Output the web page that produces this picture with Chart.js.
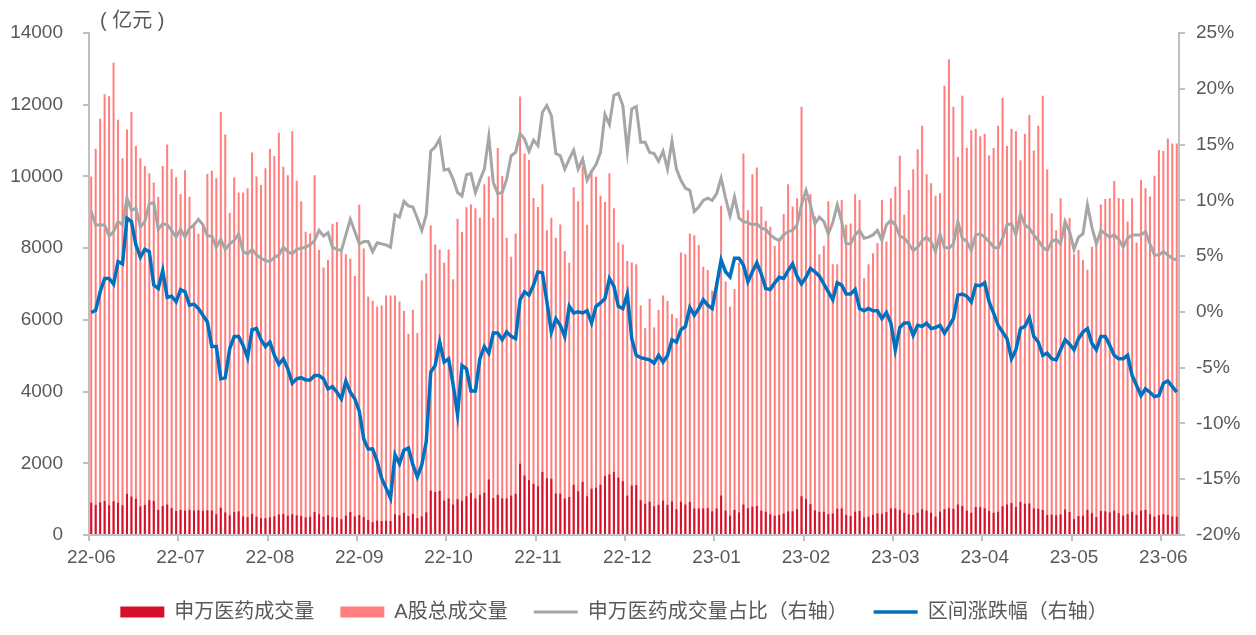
<!DOCTYPE html>
<html lang="zh-CN">
<head>
<meta charset="utf-8">
<title>申万医药成交量与A股总成交量</title>
<script src="https://cdn.jsdelivr.net/npm/chart.js@4.4.1/dist/chart.umd.min.js"></script>
<style>
  html, body { margin: 0; padding: 0; background: #fff; }
  #chart { display: block; }
</style>
</head>
<body>
<canvas id="chart" width="1256" height="635"></canvas>
<script>
// x axis labels, one every 20 trading days
const monthTicks = ['22-06', '22-07', '22-08', '22-09', '22-10', '22-11', '22-12',
  '23-01', '23-02', '23-03', '23-04', '23-05', '23-06'];

// 申万医药成交量（亿元）
const medVolume = [
  900, 840, 910, 950, 830, 940, 900, 830, 1150, 1070,
  1010, 800, 840, 970, 950, 700, 810, 850, 750, 670,
  700, 680, 700, 680, 690, 670, 690, 680, 580, 760,
  630, 550, 640, 660, 520, 500, 590, 510, 470, 470,
  490, 520, 570, 590, 540, 580, 550, 530, 490, 510,
  640, 580, 510, 550, 500, 490, 440, 540, 640, 520,
  560, 500, 420, 360, 400, 390, 400, 390, 580, 550,
  620, 530, 590, 470, 520, 630, 1240, 1200, 1230, 960,
  1020, 850, 1000, 950, 1080, 1170, 1020, 1120, 1180, 1550,
  1030, 1120, 1020, 1020, 1100, 1150, 1990, 1660, 1530, 1430,
  1360, 1760, 1580, 1570, 1160, 1150, 1020, 1060, 1400, 1220,
  1480, 1080, 1290, 1320, 1400, 1640, 1690, 1760, 1600, 1500,
  1100, 1380, 1390, 970, 870, 930, 800, 840, 960, 840,
  940, 720, 930, 850, 920, 740, 740, 740, 750, 660,
  740, 1100, 680, 540, 700, 630, 850, 750, 790, 810,
  680, 650, 580, 540, 560, 600, 660, 660, 720, 1080,
  1000, 860, 690, 650, 650, 580, 600, 730, 740, 560,
  530, 650, 670, 490, 510, 560, 600, 590, 640, 740,
  740, 700, 620, 580, 560, 620, 720, 680, 620, 510,
  650, 720, 750, 730, 850, 810, 680, 620, 780, 780,
  750, 670, 620, 650, 800, 850, 890, 780, 920, 870,
  880, 740, 730, 700, 560, 570, 550, 570, 710, 640,
  440, 530, 540, 700, 610, 500, 670, 660, 630, 680,
  610, 540, 580, 650, 560, 680, 700, 580, 510, 550,
  580, 560, 520, 510
];

// A股总成交量（亿元）
const aShareVolume = [
  10000, 10770, 11610, 12290, 12235, 13170, 11580, 10510, 11310, 11800,
  10850, 10510, 10290, 10090, 9830, 9430, 10290, 10890, 10210, 9980,
  9500, 10170, 9430, 8700, 8400, 8600, 10070, 10160, 9950, 11800,
  11170, 8990, 9970, 9550, 9550, 9670, 10670, 10000, 9760, 10230,
  10770, 10570, 11220, 10270, 10030, 11260, 9880, 9310, 8460, 8410,
  10030, 7950, 7460, 7670, 8680, 8730, 7930, 7830, 7710, 7230,
  9210, 7990, 6650, 6530, 6370, 6400, 6680, 6680, 6680, 6510,
  6250, 5610, 6280, 5630, 7100, 7290, 8630, 8100, 7960, 7590,
  7960, 7130, 8820, 8450, 9140, 9220, 9110, 8850, 9780, 10000,
  8850, 10790, 10010, 8290, 7760, 8410, 12230, 10640, 10460, 9400,
  9150, 9780, 8500, 8850, 8290, 8660, 7920, 7590, 9700, 9310,
  10270, 8650, 10130, 9990, 9460, 9290, 10090, 9110, 8160, 8100,
  7640, 7600, 7550, 6400, 5770, 6590, 5790, 6280, 6680, 6530,
  6160, 6050, 7880, 7830, 8410, 8360, 8090, 7480, 7390, 6810,
  6990, 9180, 7070, 6370, 6860, 7600, 10640, 9060, 10060, 10250,
  9160, 8760, 8600, 8060, 8270, 8950, 9780, 9160, 9390, 11940,
  9400, 9500, 8880, 7830, 8070, 9310, 7550, 7550, 9340, 8650,
  8690, 9500, 9340, 7160, 7550, 7860, 8140, 9340, 8180, 9390,
  9720, 10580, 8930, 9620, 10200, 10760, 11410, 10060, 9810, 9460,
  9530, 12530, 13270, 11940, 10550, 12250, 10800, 11290, 11330, 11120,
  11190, 10590, 10790, 11410, 12190, 10850, 11330, 11260, 10450, 11190,
  11710, 10720, 11410, 12250, 10200, 8970, 8500, 9390, 8760, 8840,
  7830, 7950, 7670, 7400, 8040, 8270, 9220, 9370, 9390, 9870,
  9400, 9370, 8740, 9390, 8160, 9900, 9670, 9440, 10020, 10740,
  10710, 11060, 10920, 10920
];

// 申万医药成交量占比（%，右轴）
const medShare = [
  9.0, 7.8, 7.8, 7.8, 6.8, 7.2, 8.1, 7.8, 10.2, 9.1,
  9.3, 7.6, 8.1, 9.7, 9.8, 7.4, 7.9, 7.8, 7.3, 6.7,
  7.4, 6.7, 7.5, 7.8, 8.3, 7.8, 6.8, 6.8, 5.8, 6.5,
  5.6, 6.1, 6.4, 7.0, 5.4, 5.2, 5.6, 5.1, 4.8, 4.6,
  4.5, 4.9, 5.1, 5.8, 5.4, 5.2, 5.6, 5.7, 5.8, 6.0,
  6.4, 7.3, 6.8, 7.1, 5.8, 5.6, 5.5, 6.9, 8.3, 7.2,
  6.1, 6.3, 6.3, 5.4, 6.2, 6.1, 6.0, 5.8, 8.7, 8.5,
  9.9, 9.5, 9.4, 8.4, 7.3, 8.7, 14.4, 14.8, 15.5, 12.7,
  12.8, 11.9, 10.7, 10.4, 12.3, 12.4, 10.7, 11.8, 12.8, 15.7,
  11.6, 10.6, 10.7, 11.9, 14.0, 14.3, 16.0, 15.5, 14.4, 15.4,
  14.9, 17.9, 18.5, 17.6, 14.2, 14.0, 12.8, 13.7, 14.5, 12.8,
  13.7, 11.8, 12.6, 13.2, 14.3, 17.7, 16.8, 19.4, 19.6, 18.5,
  14.4, 18.2, 18.4, 15.2, 15.2, 14.3, 14.2, 13.5, 14.4, 12.8,
  15.3, 12.8, 11.8, 11.1, 10.9, 9.0, 9.4, 10.0, 10.2, 10.0,
  10.6, 12.0, 10.2, 8.6, 10.3, 8.4, 8.1, 8.0, 7.8, 7.9,
  7.5, 7.4, 6.9, 6.6, 6.4, 6.9, 7.2, 7.3, 7.8, 9.6,
  10.9, 9.6, 7.9, 8.5, 8.1, 7.0, 8.0, 9.6, 8.1, 6.1,
  6.1, 6.9, 7.3, 6.6, 6.7, 6.9, 7.3, 6.4, 7.8, 8.2,
  7.8, 6.8, 6.6, 6.1, 5.5, 5.8, 6.4, 6.7, 6.3, 5.4,
  7.0, 5.8, 5.7, 6.1, 8.1, 6.6, 6.3, 5.5, 6.9, 7.0,
  6.7, 6.3, 5.8, 5.7, 6.6, 7.8, 7.9, 6.9, 8.8, 7.8,
  7.5, 6.9, 6.4, 5.8, 5.5, 6.3, 6.5, 6.1, 8.1, 7.2,
  5.6, 6.7, 7.0, 9.6, 7.6, 6.1, 7.3, 7.0, 6.7, 6.9,
  6.5, 5.8, 6.6, 6.9, 6.9, 6.9, 7.2, 6.1, 5.1, 5.1,
  5.4, 5.1, 4.8, 4.65
];

// 区间涨跌幅（%，右轴）
const rangeChange = [
  -0.05, 0.15, 1.8, 3.0, 3.0, 2.5, 4.5, 4.3, 8.4, 8.1,
  6.0, 4.9, 5.6, 5.4, 2.4, 2.1, 3.7, 1.3, 1.4, 0.9,
  2.0, 1.8, 0.6, 0.7, 0.3, -0.3, -0.9, -3.1, -3.1, -6.0,
  -5.9, -3.3, -2.2, -2.2, -3.0, -4.1, -1.6, -1.5, -2.5, -3.1,
  -2.7, -3.9, -4.7, -4.2, -5.1, -6.4, -6.0, -5.9, -6.1, -6.1,
  -5.7, -5.7, -6.0, -6.9, -6.7, -7.2, -7.8, -6.2, -7.2, -7.8,
  -8.9, -11.4, -12.3, -12.3, -13.4, -14.9, -15.8, -16.7, -12.8, -13.6,
  -12.4, -12.2, -13.7, -14.8, -13.7, -11.6, -5.4, -4.8, -2.7, -4.5,
  -4.2, -6.5, -9.2, -4.8, -5.1, -7.1, -7.1, -4.2, -3.1, -3.7,
  -1.9, -1.9, -2.5, -1.8, -2.2, -2.4, 1.1, 1.8, 1.5, 2.4,
  3.6, 3.5, 0.9, -1.8, -0.6, -1.2, -2.2, 0.5, -0.1, 0.0,
  -0.1, 0.1, -1.0, 0.5, 0.8, 1.2, 3.0, 2.3, 0.5, 0.3,
  1.6, -2.4, -3.9, -4.1, -4.2, -4.3, -4.6, -3.9, -4.5, -3.9,
  -2.5, -2.7, -1.6, -1.3, 0.4, -0.3, 0.3, 1.1, 0.6, 0.3,
  2.4, 4.65, 3.6, 3.15, 4.8, 4.8, 4.2, 2.7, 3.6, 4.4,
  3.4, 2.1, 2.0, 2.6, 3.1, 3.0, 3.7, 4.3, 3.2, 2.5,
  3.1, 3.9, 3.6, 3.2, 2.5, 1.8, 1.1, 2.6, 2.4, 1.6,
  1.6, 2.0, 0.3, 0.1, 0.3, 0.1, 0.1, -0.6, -0.05, -1.0,
  -3.4, -1.4, -1.0, -1.0, -2.1, -1.2, -1.3, -1.0, -1.5, -1.4,
  -1.2, -1.9, -1.3, -0.6, 1.5, 1.6, 1.4, 0.9, 2.4, 2.35,
  2.6, 0.9, -0.1, -1.2, -1.8, -2.4, -4.2, -3.4, -1.5, -1.3,
  -0.5, -2.2, -2.7, -3.9, -3.7, -4.2, -4.3, -3.4, -2.5, -2.9,
  -3.4, -2.4, -1.8, -1.5, -2.8, -3.4, -2.2, -2.2, -3.0, -3.9,
  -4.2, -4.2, -3.9, -5.7, -6.6, -7.5, -6.9, -7.2, -7.6, -7.5,
  -6.4, -6.2, -6.7, -7.2
];

const axisColor = '#c0c0c0';
const textColor = '#595959';
const fontFamily = "'Liberation Sans', 'Noto Sans CJK SC', sans-serif";
Chart.defaults.font.family = fontFamily;
Chart.defaults.color = textColor;

// unit text above the left axis
const unitLabel = {
  id: 'unitLabel',
  afterDraw(chart) {
    const { ctx, chartArea } = chart;
    ctx.save();
    ctx.font = '20px ' + fontFamily;
    ctx.fillStyle = textColor;
    ctx.textBaseline = 'middle';
    ctx.fillText('( 亿元 )', chartArea.left + 11, chartArea.top - 12);
    ctx.restore();
  }
};

// legend sits a bit left of the canvas centre in the original
const legendShift = {
  id: 'legendShift',
  afterLayout(chart) {
    chart.legend.left -= 10;
    chart.legend.right -= 10;
  }
};

new Chart(document.getElementById('chart'), {
  type: 'bar',
  data: {
    labels: aShareVolume.map((v, i) => i),
    datasets: [
      {
        type: 'bar',
        label: '申万医药成交量',
        data: medVolume,
        backgroundColor: '#d6102b',
        grouped: false,
        barPercentage: 0.45,
        categoryPercentage: 1,
        yAxisID: 'y',
        order: 2
      },
      {
        type: 'bar',
        label: 'A股总成交量',
        data: aShareVolume,
        backgroundColor: '#ff7f7f',
        grouped: false,
        barPercentage: 0.45,
        categoryPercentage: 1,
        yAxisID: 'y',
        order: 3
      },
      {
        type: 'line',
        label: '申万医药成交量占比（右轴）',
        data: medShare,
        borderColor: '#a6a6a6',
        backgroundColor: '#a6a6a6',
        borderWidth: 3,
        pointRadius: 0,
        tension: 0,
        yAxisID: 'y1',
        order: 1
      },
      {
        type: 'line',
        label: '区间涨跌幅（右轴）',
        data: rangeChange,
        borderColor: '#0070c0',
        backgroundColor: '#0070c0',
        borderWidth: 3.5,
        pointRadius: 0,
        tension: 0,
        yAxisID: 'y1',
        order: 0
      }
    ]
  },
  options: {
    responsive: false,
    animation: false,
    devicePixelRatio: 1,
    layout: { padding: { top: 33, right: 8, bottom: 3, left: 0 } },
    plugins: {
      tooltip: { enabled: false },
      legend: {
        position: 'bottom',
        labels: {
          usePointStyle: true,
          pointStyleWidth: 44,
          boxHeight: 11,
          padding: 26,
          color: textColor,
          font: { size: 20 },
          sort: (a, b) => a.datasetIndex - b.datasetIndex,
          generateLabels: (chart) => Chart.defaults.plugins.legend.labels.generateLabels(chart).map(item => {
            item.pointStyle = chart.data.datasets[item.datasetIndex].type === 'line' ? 'line' : 'rect';
            return item;
          })
        }
      }
    },
    scales: {
      x: {
        offset: true,
        grid: {
          offset: true,
          drawOnChartArea: false,
          tickLength: 6,
          lineWidth: 2,
          color: (ctx) => ctx.index % 20 === 0 ? axisColor : 'transparent'
        },
        border: { color: axisColor, width: 2 },
        ticks: {
          autoSkip: false,
          maxRotation: 0,
          padding: 5,
          font: { size: 19 },
          callback: (v, i) => i % 20 === 0 ? monthTicks[i / 20] : ''
        },
        afterFit: (scale) => { scale.height = 41; }
      },
      y: {
        position: 'left',
        min: 0,
        max: 14000,
        ticks: { stepSize: 2000, padding: 20, font: { size: 19 }, callback: (v) => String(v) },
        grid: { drawOnChartArea: false, tickLength: 6, lineWidth: 2, color: axisColor },
        border: { color: axisColor, width: 2 },
        afterFit: (scale) => { scale.width = 89; }
      },
      y1: {
        position: 'right',
        min: -20,
        max: 25,
        ticks: { stepSize: 5, padding: 11, font: { size: 19 }, callback: (v) => v + '%' },
        grid: { drawOnChartArea: false, tickLength: 6, lineWidth: 2, color: axisColor },
        border: { color: axisColor, width: 2 },
        afterFit: (scale) => { scale.width = 69; }
      }
    }
  },
  plugins: [unitLabel, legendShift]
});
</script>
</body>
</html>
